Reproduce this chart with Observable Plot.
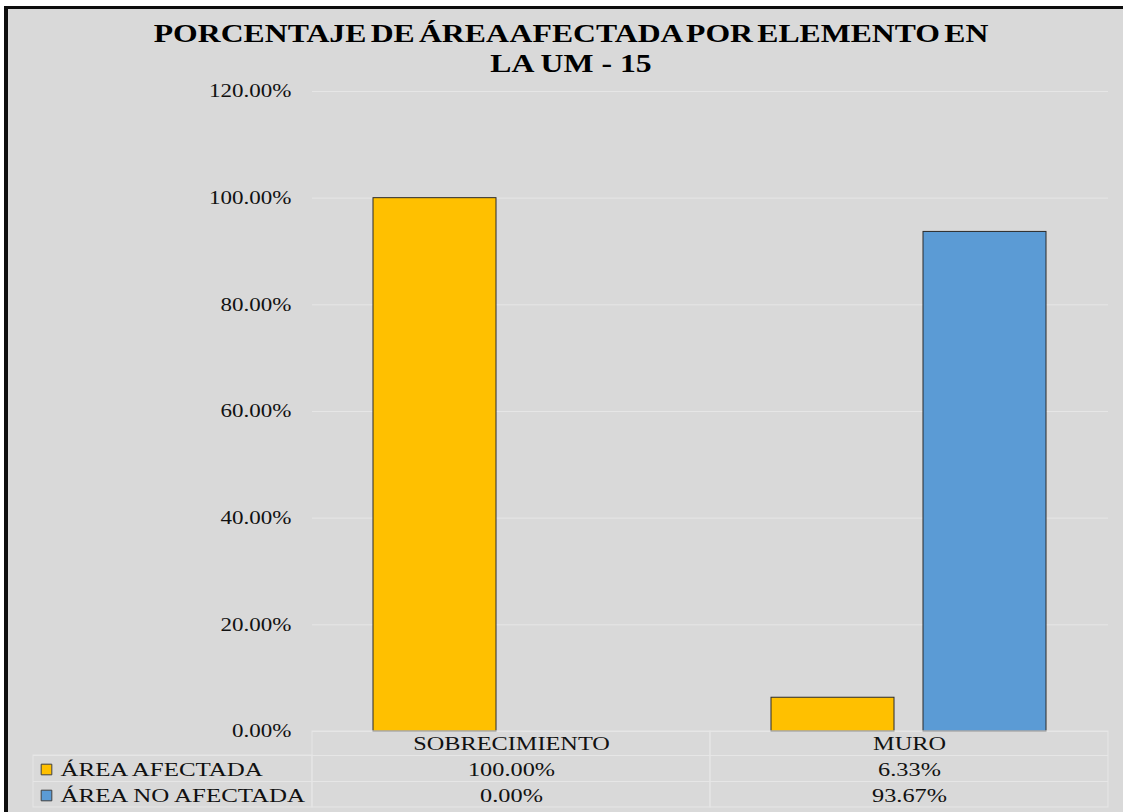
<!DOCTYPE html>
<html>
<head>
<meta charset="utf-8">
<script src="https://cdn.jsdelivr.net/npm/d3@7"></script>
<script src="https://cdn.jsdelivr.net/npm/@observablehq/plot@0.6"></script>
<style>
  html, body { margin: 0; padding: 0; width: 1123px; height: 812px; overflow: hidden; background: #ffffff; }
  #frame { position: absolute; left: 4px; top: 6px; width: 1140px; height: 830px;
           border-left: 4px solid #0d0d0d; border-top: 3px solid #0d0d0d; background: #d9d9d9; }
  #title { position: absolute; left: 0; top: 19px; width: 1142px; text-align: center;
           font: bold 26px/30px "Liberation Serif", "Times New Roman", serif; color: #000;
           transform: scaleX(1.22); transform-origin: 571px 0; white-space: nowrap; }
  #title .l1 { word-spacing: -3px; }
  #title .l2 { word-spacing: 0px; }
  #chart { position: absolute; left: 0; top: 80px; }
</style>
</head>
<body>
<div id="frame"></div>
<div id="title"><span class="l1">PORCENTAJE DE ÁREA AFECTADA POR ELEMENTO EN</span><br><span class="l2">LA UM - 15</span></div>
<div id="chart"></div>
<script>
const categories = ["SOBRECIMIENTO", "MURO"];
const seriesNames = ["ÁREA AFECTADA", "ÁREA NO AFECTADA"];
const afectada = [100.00, 6.33];
const noAfectada = [0.00, 93.67];
const yTicks = [0, 20, 40, 60, 80, 100, 120];
const seriesColors = ["#ffc000", "#5b9bd5"];

const rows = categories.flatMap((c, i) => [
  {cat: c, series: seriesNames[0], value: afectada[i]},
  {cat: c, series: seriesNames[1], value: noAfectada[i]}
]);
const fmt = v => v.toFixed(2) + "%";
const gridColor = "#e6e6e6";
const textColor = "#111111";
const barStroke = "#2b2b2b";

const svg = Plot.plot({
  width: 1123,
  height: 732,
  marginTop: 11,
  marginBottom: 81,
  marginLeft: 312,
  marginRight: 15,
  style: {fontFamily: "'Liberation Serif', 'Times New Roman', serif", fontSize: "19px", background: "transparent", color: textColor, overflow: "visible"},
  x: {domain: categories, padding: 0, axis: null},
  y: {domain: [0, 120], axis: null},
  marks: [
    Plot.ruleY(yTicks, {stroke: gridColor, strokeWidth: 1}),
    // y tick labels
    Plot.text(yTicks, {y: d => d, text: d => fmt(d), frameAnchor: "left", dx: -21, textAnchor: "end", fill: textColor, fontSize: 18}),
    // bars
    Plot.barY(rows.filter(d => d.series === seriesNames[0] && d.value > 0),
      {x: "cat", y: "value", fill: seriesColors[0], stroke: barStroke, strokeWidth: 1, insetLeft: 61, insetRight: 214}),
    Plot.barY(rows.filter(d => d.series === seriesNames[1] && d.value > 0),
      {x: "cat", y: "value", fill: seriesColors[1], stroke: barStroke, strokeWidth: 1, insetLeft: 213, insetRight: 62}),
    // data table borders
    Plot.barY(categories, {x: d => d, y1: 0, y2: 0, insetBottom: -76, fill: "none", stroke: gridColor}),
    Plot.barY([categories[0]], {x: d => d, y1: 0, y2: 0, insetLeft: -279, insetRight: 398, insetTop: 24, insetBottom: -76, fill: "none", stroke: gridColor}),
    Plot.ruleY([0], {dy: 24, insetLeft: -279, stroke: gridColor}),
    Plot.ruleY([0], {dy: 50, insetLeft: -279, stroke: gridColor}),
    // table header
    Plot.text(categories, {x: d => d, text: d => d, frameAnchor: "bottom", dy: 18, fill: textColor, fontSize: 19}),
    // table values
    Plot.text(rows.filter(d => d.series === seriesNames[0]), {x: "cat", text: d => fmt(d.value), frameAnchor: "bottom", dy: 44, fill: textColor, fontSize: 19}),
    Plot.text(rows.filter(d => d.series === seriesNames[1]), {x: "cat", text: d => fmt(d.value), frameAnchor: "bottom", dy: 70, fill: textColor, fontSize: 19}),
    // row labels + legend keys
    Plot.dot([seriesNames[0]], {frameAnchor: "bottom-left", dx: -266, dy: 38, symbol: "square", r: 6, fill: seriesColors[0], stroke: "#404040", strokeWidth: 1}),
    Plot.dot([seriesNames[1]], {frameAnchor: "bottom-left", dx: -266, dy: 64, symbol: "square", r: 6, fill: seriesColors[1], stroke: "#404040", strokeWidth: 1}),
    Plot.text([seriesNames[0]], {text: d => d, frameAnchor: "bottom-left", dx: -252, dy: 44, textAnchor: "start", fill: textColor, fontSize: 19.5}),
    Plot.text([seriesNames[1]], {text: d => d, frameAnchor: "bottom-left", dx: -252, dy: 70, textAnchor: "start", fill: textColor, fontSize: 19.5})
  ]
});

// horizontally widen the text (about its anchor) like the original rendering
const S = 1.28;
svg.querySelectorAll("text").forEach(t => {
  const xa = t.getAttribute("x");
  const x = xa != null && /^\s*-?[\d.]+\s*$/.test(xa) ? +xa : 0;
  const tr = t.getAttribute("transform") || "";
  t.setAttribute("transform", `${tr} translate(${x},0) scale(${S},1) translate(${-x},0)`);
});

document.getElementById("chart").appendChild(svg);
</script>
</body>
</html>
